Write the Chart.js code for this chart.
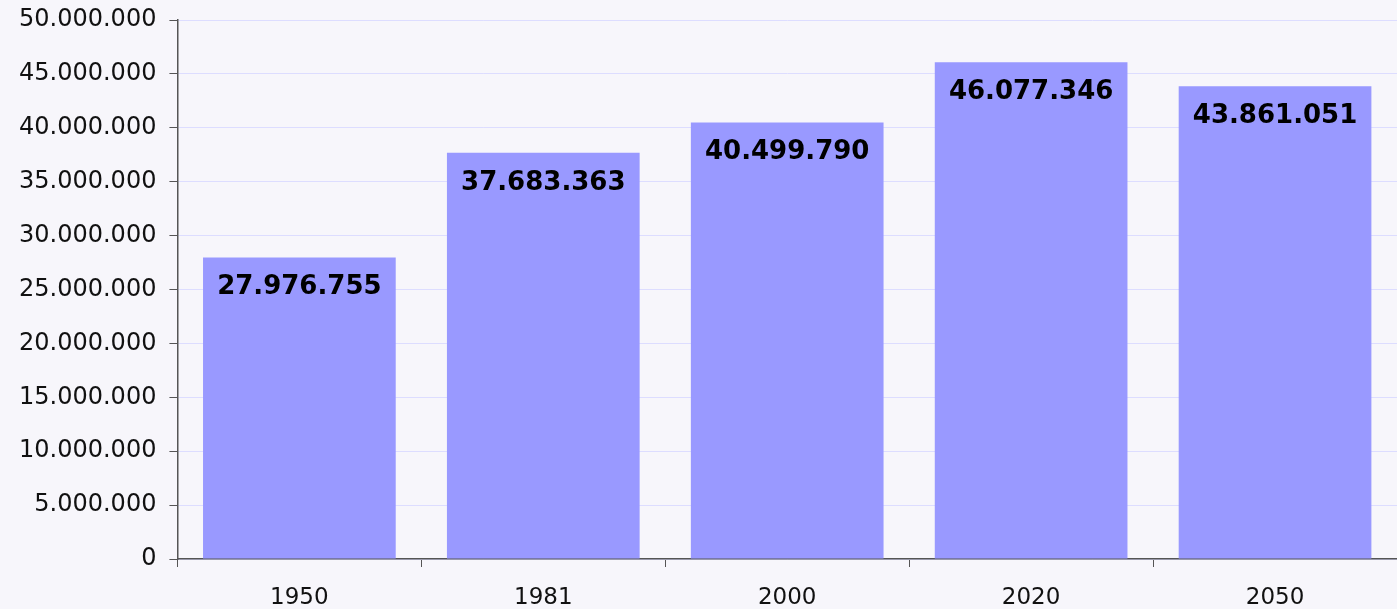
<!DOCTYPE html>
<html>
<head>
<meta charset="utf-8">
<script src="https://cdn.jsdelivr.net/npm/chart.js@4"></script>
<style>
  html, body { margin: 0; padding: 0; background: #f7f6fb; }
  #wrap { width: 1397px; height: 609px; }
</style>
</head>
<body>
<div id="wrap"><canvas id="chart"></canvas></div>
<script>
const years = ['1950', '1981', '2000', '2020', '2050'];
const population = [27976755, 37683363, 40499790, 46077346, 43861051];
const yMax = 50000000;
const yStep = 5000000;

function fmtDots(n) {
  return String(Math.round(n)).replace(/\B(?=(\d{3})+(?!\d))/g, '.');
}

// draws the value inside the top of each bar
const barLabels = {
  id: 'barLabels',
  afterDatasetsDraw(chart) {
    const ctx = chart.ctx;
    const meta = chart.getDatasetMeta(0);
    ctx.save();
    ctx.font = 'bold 26px "DejaVu Sans", Verdana, sans-serif';
    ctx.fillStyle = '#000';
    ctx.textAlign = 'center';
    ctx.textBaseline = 'middle';
    meta.data.forEach((bar, i) => {
      ctx.fillText(fmtDots(population[i]), bar.x, bar.y + 30);
    });
    ctx.restore();
  },
};

new Chart(document.getElementById('chart'), {
  type: 'bar',
  data: {
    labels: years,
    datasets: [{
      data: population,
      backgroundColor: '#9999ff',
      borderWidth: 0,
      categoryPercentage: 1,
      barPercentage: 0.79,
    }],
  },
  options: {
    responsive: true,
    maintainAspectRatio: false,
    animation: false,
    layout: { padding: { top: 0, right: 0, left: 6, bottom: 0 } },
    plugins: {
      legend: { display: false },
      tooltip: { enabled: false },
    },
    scales: {
      x: {
        grid: { drawOnChartArea: false, tickLength: 8, tickColor: '#555', offset: true },
        border: { color: '#555', width: 1.5 },
        ticks: {
          color: '#111',
          font: { family: '"DejaVu Sans", Verdana, sans-serif', size: 23 },
          padding: 17,
        },
        afterFit: (scale) => { scale.height = 50; },
      },
      y: {
        min: 0,
        max: yMax,
        grid: { color: '#ddddff', tickLength: 8, tickColor: '#555' },
        border: { color: '#555', width: 1.5 },
        ticks: {
          stepSize: yStep,
          color: '#111',
          font: { family: '"DejaVu Sans", Verdana, sans-serif', size: 24 },
          padding: 13,
          callback: (v) => fmtDots(v),
        },
        afterFit: (scale) => { scale.paddingTop = 20; },
      },
    },
  },
  plugins: [barLabels],
});
</script>
</body>
</html>
